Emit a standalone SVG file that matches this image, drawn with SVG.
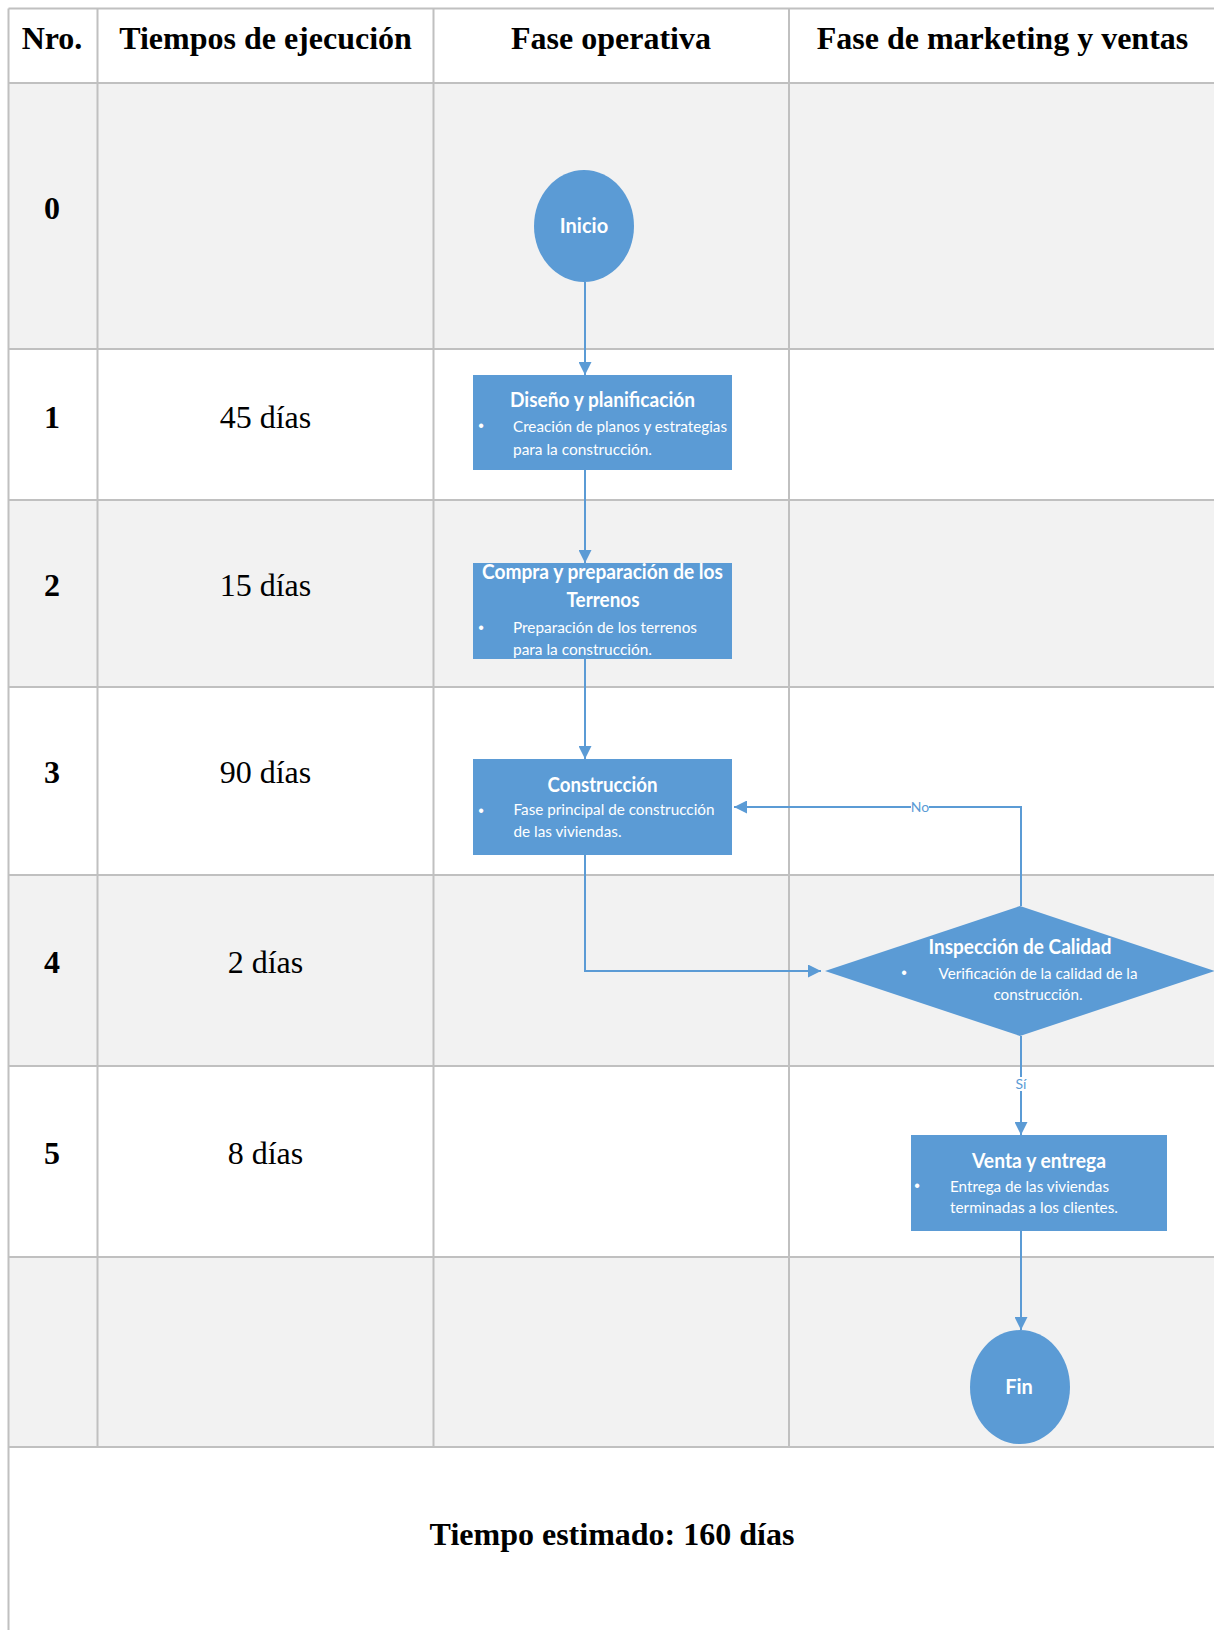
<svg xmlns="http://www.w3.org/2000/svg" width="1214" height="1630" viewBox="0 0 1214 1630">
<style>
.grid{stroke:#c0c0c0;stroke-width:2;fill:none}
.gray{fill:#f2f2f2}
.hd{font-family:"Liberation Serif","Times New Roman",serif;font-weight:bold;font-size:32px;fill:#000;text-anchor:middle}
.cell{font-family:"Liberation Serif","Times New Roman",serif;font-size:32px;fill:#000;text-anchor:middle}
.shape{fill:#5b9bd5}
.t{font-family:Lato,"Open Sans",sans-serif;font-weight:bold;font-size:20px;fill:#fff;text-anchor:middle}
.b{font-family:Lato,"Open Sans",sans-serif;font-size:16px;fill:#fff}
.bul{font-family:"Liberation Sans",sans-serif;font-size:16px;fill:#fff;text-anchor:middle}
.conn{stroke:#5b9bd5;stroke-width:2;fill:none}
.lbl{font-family:Lato,"Open Sans",sans-serif;font-size:14px;fill:#5b9bd5;text-anchor:middle}
</style>
<defs>
<marker id="arr" viewBox="0 0 13 13" refX="13" refY="6.5" markerWidth="13" markerHeight="13" markerUnits="userSpaceOnUse" orient="auto">
<path d="M0,0 L13,6.5 L0,13 z" fill="#5b9bd5"/>
</marker>
</defs>
<rect x="0" y="0" width="1214" height="1630" fill="#fff"/>
<g id="table">
<rect class="gray" x="8" y="83" width="1206" height="266"/>
<rect class="gray" x="8" y="500" width="1206" height="187"/>
<rect class="gray" x="8" y="875" width="1206" height="191"/>
<rect class="gray" x="8" y="1257" width="1206" height="190"/>
<path class="grid" d="M8.5,8.5 H1214 M8.5,83 H1214 M8.5,349 H1214 M8.5,500 H1214 M8.5,687 H1214 M8.5,875 H1214 M8.5,1066 H1214 M8.5,1257 H1214 M8.5,1447 H1214 M8.5,8.5 V1630 M97.5,8.5 V1447 M433.5,8.5 V1447 M789,8.5 V1447"/>
<text class="hd" x="52" y="49">Nro.</text>
<text class="hd" x="265.5" y="49">Tiempos de ejecución</text>
<text class="hd" x="611" y="49">Fase operativa</text>
<text class="hd" x="1002.5" y="49">Fase de marketing y ventas</text>
<text class="hd" x="52" y="219">0</text>
<text class="hd" x="52" y="428">1</text>
<text class="hd" x="52" y="596">2</text>
<text class="hd" x="52" y="783">3</text>
<text class="hd" x="52" y="973">4</text>
<text class="hd" x="52" y="1164">5</text>
<text class="cell" x="265.5" y="428">45 días</text>
<text class="cell" x="265.5" y="596">15 días</text>
<text class="cell" x="265.5" y="783">90 días</text>
<text class="cell" x="265.5" y="973">2 días</text>
<text class="cell" x="265.5" y="1164">8 días</text>
<text class="hd" x="612" y="1545">Tiempo estimado: 160 días</text>
</g>
<g id="connectors">
<path class="conn" d="M585,282 V375" marker-end="url(#arr)"/>
<path class="conn" d="M585,470 V563" marker-end="url(#arr)"/>
<path class="conn" d="M585,659 V759" marker-end="url(#arr)"/>
<path class="conn" d="M585,855 V971 H821" marker-end="url(#arr)"/>
<path class="conn" d="M1021,906 V807 H734" marker-end="url(#arr)"/>
<path class="conn" d="M1021,1036 V1135" marker-end="url(#arr)"/>
<path class="conn" d="M1021,1231 V1330" marker-end="url(#arr)"/>
<rect x="911" y="799" width="18" height="15" fill="#fff"/>
<text class="lbl" x="920" y="812">No</text>
<rect x="1013" y="1077" width="16" height="14" fill="#fff"/>
<text class="lbl" x="1021" y="1089">Sí</text>
</g>
<g id="inicio">
<ellipse class="shape" cx="584" cy="226" rx="50" ry="56"/>
<text class="t" x="584" y="233">Inicio</text>
</g>
<g id="diseno">
<rect class="shape" x="473" y="375" width="259" height="95"/>
<text class="t" x="602.5" y="407" textLength="185" lengthAdjust="spacingAndGlyphs">Diseño y planificación</text>
<text class="bul" x="481" y="431">•</text>
<text class="b" x="513" y="431.5" textLength="214" lengthAdjust="spacingAndGlyphs">Creación de planos y estrategias</text>
<text class="b" x="513" y="455" textLength="139" lengthAdjust="spacingAndGlyphs">para la construcción.</text>
</g>
<g id="compra">
<rect class="shape" x="473" y="563" width="259" height="96"/>
<text class="t" x="602.5" y="579" textLength="241" lengthAdjust="spacingAndGlyphs">Compra y preparación de los</text>
<text class="t" x="603" y="607" textLength="73" lengthAdjust="spacingAndGlyphs">Terrenos</text>
<text class="bul" x="481" y="633">•</text>
<text class="b" x="513" y="633" textLength="184" lengthAdjust="spacingAndGlyphs">Preparación de los terrenos</text>
<text class="b" x="513" y="654.5" textLength="139" lengthAdjust="spacingAndGlyphs">para la construcción.</text>
</g>
<g id="construccion">
<rect class="shape" x="473" y="759" width="259" height="96"/>
<text class="t" x="602.5" y="791.5" textLength="110" lengthAdjust="spacingAndGlyphs">Construcción</text>
<text class="bul" x="481" y="815.5">•</text>
<text class="b" x="513.5" y="815" textLength="201" lengthAdjust="spacingAndGlyphs">Fase principal de construcción</text>
<text class="b" x="513.5" y="836.5" textLength="108" lengthAdjust="spacingAndGlyphs">de las viviendas.</text>
</g>
<g id="inspeccion">
<polygon class="shape" points="825,971 1020,906 1215,971 1020,1036"/>
<text class="t" x="1020" y="954" textLength="183" lengthAdjust="spacingAndGlyphs">Inspección de Calidad</text>
<text class="bul" x="904" y="978">•</text>
<text class="b" x="938.5" y="978.5" textLength="199" lengthAdjust="spacingAndGlyphs">Verificación de la calidad de la</text>
<text class="b" x="993.5" y="1000" textLength="89" lengthAdjust="spacingAndGlyphs">construcción.</text>
</g>
<g id="venta">
<rect class="shape" x="911" y="1135" width="256" height="96"/>
<text class="t" x="1039" y="1167.5" textLength="134" lengthAdjust="spacingAndGlyphs">Venta y entrega</text>
<text class="bul" x="917" y="1190.5">•</text>
<text class="b" x="950" y="1191.5" textLength="159" lengthAdjust="spacingAndGlyphs">Entrega de las viviendas</text>
<text class="b" x="950" y="1213" textLength="168" lengthAdjust="spacingAndGlyphs">terminadas a los clientes.</text>
</g>
<g id="fin">
<ellipse class="shape" cx="1020" cy="1387" rx="50" ry="57"/>
<text class="t" x="1019" y="1394">Fin</text>
</g>
</svg>
